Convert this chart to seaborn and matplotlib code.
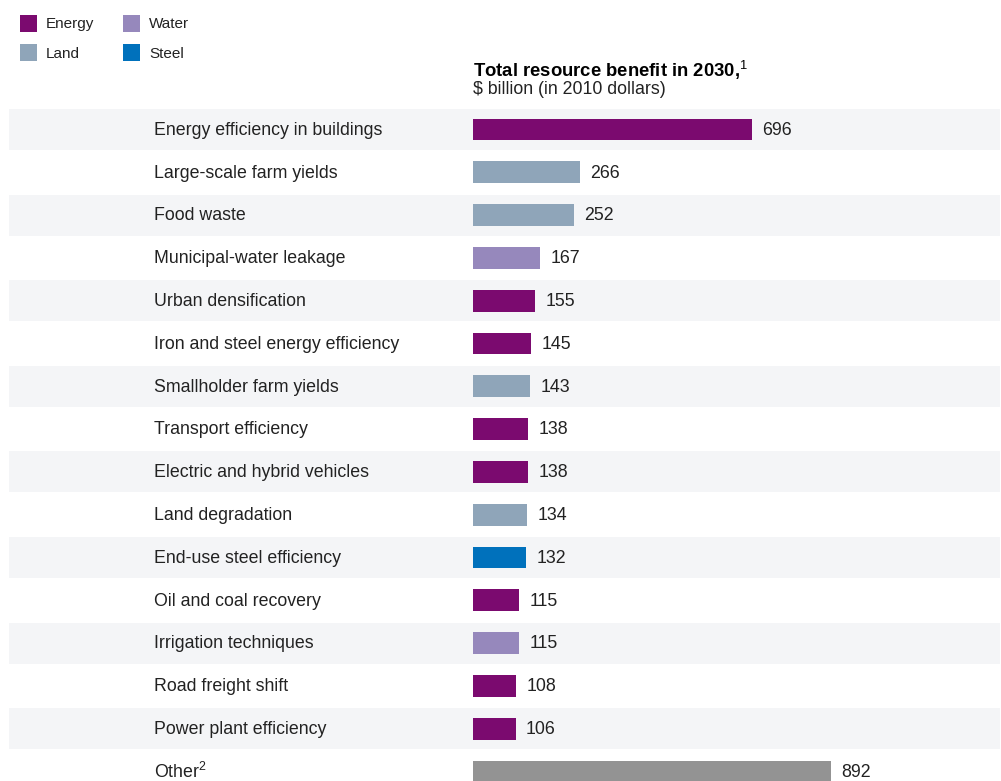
import numpy as np
import pandas as pd
import matplotlib.pyplot as plt
import seaborn as sns
from matplotlib.patches import Patch
from matplotlib.transforms import blended_transform_factory

# =========================
# Data
# =========================
labels = [
    "Energy efficiency in buildings",
    "Large-scale farm yields",
    "Food waste",
    "Municipal-water leakage",
    "Urban densification",
    "Iron and steel energy efficiency",
    "Smallholder farm yields",
    "Transport efficiency",
    "Electric and hybrid vehicles",
    "Land degradation",
    "End-use steel efficiency",
    "Oil and coal recovery",
    "Irrigation techniques",
    "Road freight shift",
    "Power plant efficiency",
    "Other$^{2}$",
]
values = [696, 266, 252, 167, 155, 145, 143, 138, 138, 134, 132, 115, 115, 108, 106, 892]
resource = ["Energy", "Land", "Land", "Water", "Energy", "Energy", "Land", "Energy",
            "Energy", "Land", "Steel", "Energy", "Water", "Energy", "Energy", "Other"]

palette = {
    "Energy": "#7b0a6f",
    "Land": "#8fa5b9",
    "Water": "#9688bc",
    "Steel": "#0071bc",
    "Other": "#939393",
}
legend_items = ["Energy", "Land", "Water", "Steel"]

df = pd.DataFrame({"label": labels, "value": values, "resource": resource})

# =========================
# Style
# =========================
sns.set_style("white")
plt.rcParams["font.family"] = ["Liberation Sans", "DejaVu Sans"]
plt.rcParams["mathtext.fontset"] = "custom"
plt.rcParams["mathtext.rm"] = "Liberation Sans"
plt.rcParams["mathtext.it"] = "Liberation Sans:italic"
plt.rcParams["mathtext.bf"] = "Liberation Sans:bold"

text_color = "#222222"
band_color = "#f4f5f7"
fs = 12.8

W, H = 1001, 781
fig = plt.figure(figsize=(W / 100, H / 100), dpi=100)
ax = fig.add_axes([0, 0, 1, 1])

# pixel mapping: bars start at x=473, 0.401 px per unit; rows every 42.8 px from y=129.5
px_per_unit = 0.401
x0 = 473
row0, row_h = 129.5, 42.8

sns.barplot(
    data=df, x="value", y="label", hue="resource", palette=palette,
    dodge=False, legend=False, orient="h", width=0.51, ax=ax,
    saturation=1, zorder=3, edgecolor="none", linewidth=0,
)

ax.set_xlim(-x0 / px_per_unit, (W - x0) / px_per_unit)
ax.set_ylim((H - row0) / row_h, -row0 / row_h)
ax.axis("off")

# alternating background bands
for i in range(len(labels)):
    if i % 2 == 0:
        ax.axhspan(i - 0.48, i + 0.48, xmin=9 / W, xmax=1000 / W,
                   color=band_color, zorder=0, lw=0)

# row labels and value labels
trans = blended_transform_factory(ax.transAxes, ax.transData)
for i, (lab, val) in enumerate(zip(labels, values)):
    ax.text(154 / W, i + 0.02, lab, transform=trans, ha="left", va="center",
            fontsize=fs, color=text_color)
    ax.annotate(str(val), xy=(val, i + 0.02), xytext=(7.5, 0), textcoords="offset points",
                ha="left", va="center", fontsize=fs, color=text_color)

# title
fig.text(x0 / W, 1 - 70 / H, "Total resource benefit in 2030,$^{1}$",
         fontsize=13.3, fontweight="bold", color="#000000", ha="left", va="center")
fig.text(x0 / W, 1 - 90 / H, "$ billion (in 2010 dollars)",
         fontsize=fs, color=text_color, ha="left", va="center")

# legend
handles = [Patch(facecolor=palette[k], edgecolor="none", label=k) for k in legend_items]
fig.legend(
    handles=handles, ncol=2, loc="upper left", bbox_to_anchor=(12 / W, 1 - 7 / H),
    frameon=False, fontsize=11, handlelength=1.11, handleheight=1.33, borderpad=0,
    handletextpad=0.6, columnspacing=1.9, labelspacing=0.81, labelcolor=text_color,
)

fig.savefig("out.png", dpi=100)
